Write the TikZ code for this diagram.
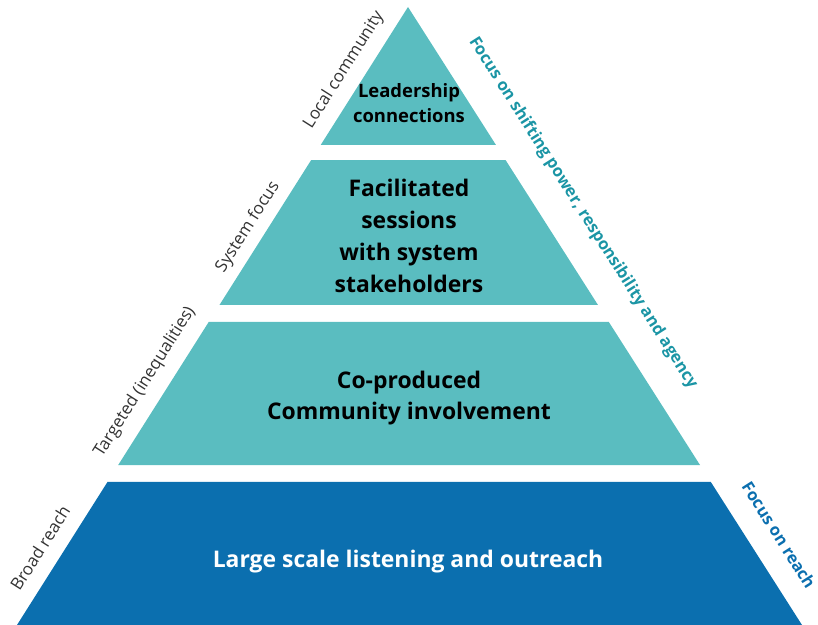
\documentclass[tikz,border=0pt]{standalone}
\usepackage{fontspec}
\setmainfont{Open Sans}
\usetikzlibrary{calc}
\definecolor{pyrteal}{HTML}{5ABDC0}
\definecolor{pyrblue}{HTML}{0B6FAF}
\definecolor{focusteal}{HTML}{1B95A5}
\definecolor{labelgray}{HTML}{333333}
\tikzset{
	band text/.style={font=\bfseries\fontsize{23}{32}\selectfont, align=center, text=black},
	side label/.style={font=\fontsize{17}{20}\selectfont, text=labelgray, rotate=57.6, inner sep=0pt},
	focus label/.style={font=\bfseries\fontsize{16.5}{20}\selectfont, rotate=-57.6, inner sep=0pt}
}
\newcommand{\pyrBand}[3]{
	\fill[#1] ($(apex)!#2!(BL)$) -- ($(apex)!#2!(BR)$) -- ($(apex)!#3!(BR)$) -- ($(apex)!#3!(BL)$) -- cycle;
}

\begin{document}
\begin{tikzpicture}[x=1bp, y=-1bp]
	\useasboundingbox (0,0) rectangle (818,625);
	\coordinate (apex) at (408,7);
	\coordinate (BL) at (17,625);
	\coordinate (BR) at (802,625);
	% bands, top to bottom
	\pyrBand{pyrteal}{0}{.2233}
	\pyrBand{pyrteal}{.2476}{.4822}
	\pyrBand{pyrteal}{.5097}{.7411}
	\pyrBand{pyrblue}{.7686}{1}
	\node[band text, font=\bfseries\fontsize{18.5}{25}\selectfont] (lead) at (409,103) {Leadership\\connections};
	\node[band text] (facil) at (409,236) {Facilitated\\sessions\\with system\\stakeholders};
	\node[band text, font=\bfseries\fontsize{23}{31}\selectfont] (coprod) at (409,398) {Co-produced\\Community involvement};
	\node[band text, text=white] (listen) at (408,562) {Large scale listening and outreach};
	% side labels
	\node[side label] (local) at (344,70) {Local community};
	\node[side label] (system) at (248,227) {System focus};
	\node[side label] (targeted) at (145,382) {Targeted (inequalities)};
	\node[side label] (broad) at (40,548) {Broad reach};
	\node[focus label, text=focusteal] (shift) at (583,213) {Focus on shifting power, responsibility and agency};
	\node[focus label, text=pyrblue] (reach) at (779,535) {Focus on reach};
\end{tikzpicture}
\end{document}
